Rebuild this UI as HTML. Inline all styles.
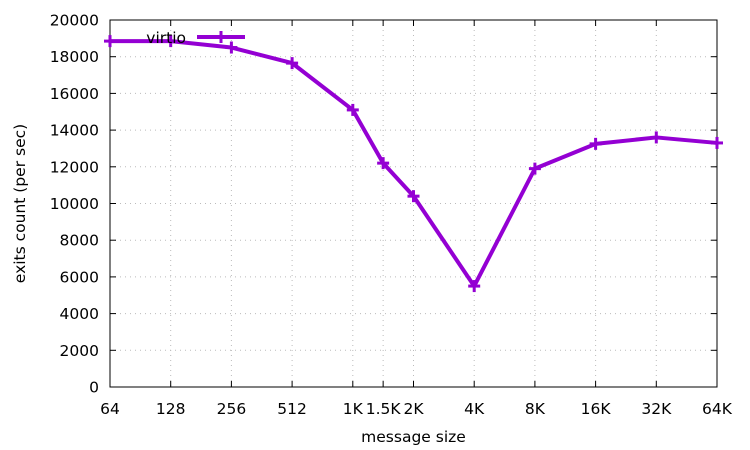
<!DOCTYPE html>
<html><head><meta charset="utf-8"><style>
body{margin:0;background:#fff}
svg{display:block;font-family:"DejaVu Sans",sans-serif}
</style></head><body>
<svg id="c" width="750" height="450"></svg>
<script>
const xLabels=["64","128","256","512","1K","1.5K","2K","4K","8K","16K","32K","64K"];
const xValues=[64,128,256,512,1024,1448,2048,4096,8192,16384,32768,65536];
const yValues=[18850,18850,18500,17650,15100,12200,10400,5500,11900,13250,13600,13300];
const yTicks=[0,2000,4000,6000,8000,10000,12000,14000,16000,18000,20000];
const L=110,R=717,T=20,B=387;
const FS=15.5;
const xs=v=>L+(Math.log2(v)-6)/10*(R-L);
const ys=v=>B-v/20000*(B-T);
const svg=document.getElementById('c');
const NS='http://www.w3.org/2000/svg';
function mk(t,a,p){const e=document.createElementNS(NS,t);for(const k in a)e.setAttribute(k,a[k]);(p||svg).appendChild(e);return e;}
const grid=mk('g',{});


yTicks.forEach(t=>{const y=ys(t);
 if(t>0&&t<20000)mk('line',{x1:L,x2:R,y1:y,y2:y,stroke:'#bbb','stroke-dasharray':'1,4','stroke-width':1},grid);
 mk('line',{x1:L,x2:L+6,y1:y,y2:y,stroke:'#000'});
 mk('line',{x1:R,x2:R-6,y1:y,y2:y,stroke:'#000'});
 const tx=mk('text',{x:L-11,y:y+5.5,'text-anchor':'end','font-size':FS});tx.textContent=t;
 
 
});
xValues.forEach((v,i)=>{const x=xs(v);
 if(i>0&&i<xValues.length-1)mk('line',{x1:x,x2:x,y1:T,y2:B,stroke:'#bbb','stroke-dasharray':'1,4','stroke-width':1},grid);
 mk('line',{x1:x,x2:x,y1:B,y2:B-6,stroke:'#000'});
 mk('line',{x1:x,x2:x,y1:T,y2:T+6,stroke:'#000'});
 const tx=mk('text',{x:x,y:B+27,'text-anchor':'middle','font-size':FS});tx.textContent=xLabels[i];
 
 
});
const border=mk('rect',{x:L,y:T,width:R-L,height:B-T,fill:'none',stroke:'#000','stroke-width':1});


const yt=mk('text',{x:25,y:(T+B)/2,'text-anchor':'middle','font-size':FS,transform:`rotate(-90 25 ${(T+B)/2})`});
yt.textContent='exits count (per sec)';


const xt=mk('text',{x:(L+R)/2,y:442,'text-anchor':'middle','font-size':FS});
xt.textContent='message size';


const col='#9400d3';
const pts=xValues.map((v,i)=>xs(v)+','+ys(yValues[i])).join(' ');
const line=mk('polyline',{points:pts,fill:'none',stroke:col,'stroke-width':4,'stroke-linejoin':'round'});


function cross(x,y,n){const g=mk('g',{stroke:col,'stroke-width':3});
 
 
 mk('line',{x1:x-6,x2:x+6,y1:y,y2:y},g);mk('line',{x1:x,x2:x,y1:y-6,y2:y+6},g);}
xValues.forEach((v,i)=>cross(xs(v),ys(yValues[i]),'virtio-point'));
const lt=mk('text',{x:186,y:43,'text-anchor':'end','font-size':FS});lt.textContent='virtio';


const ll=mk('line',{x1:197,x2:245,y1:37,y2:37,stroke:col,'stroke-width':4});


cross(221,37,'legend-marker');
</script>
</body></html>
